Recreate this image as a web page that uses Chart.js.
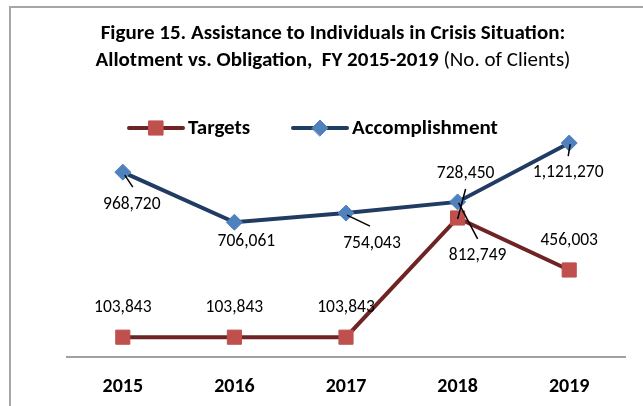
<!DOCTYPE html>
<html>
<head>
<meta charset="utf-8">
<script src="https://cdn.jsdelivr.net/npm/chart.js@4.4.1/dist/chart.umd.min.js"></script>
<style>
  body { margin: 0; background: #fff; }
  #wrap { position: relative; width: 643px; height: 406px; overflow: hidden; font-family: Carlito, Calibri, Lato, sans-serif; }
  #frame { position: absolute; left: 9px; top: 6px; right: -4px; bottom: -4px; border-top: 2px solid #a6a6a6; border-left: 2px solid #a6a6a6; }
  #title { position: absolute; left: 0; width: 666px; top: 19px; text-align: center; font-size: 21px; line-height: 27px; color: #000; }
  #title b { font-weight: 700; }
  canvas { position: absolute; left: 0; top: 0; }
</style>
</head>
<body>
<div id="wrap">
  <div id="frame"></div>
  <canvas id="chart" width="643" height="406"></canvas>
  <div id="title"><b>Figure 15. Assistance to Individuals in Crisis Situation:</b><br><b>Allotment vs. Obligation,&nbsp; FY 2015-2019</b> (No. of Clients)</div>
</div>
<script>
// --- DATA ---
const years = ['2015', '2016', '2017', '2018', '2019'];
const targets = [103843, 103843, 103843, 728450, 456003];
const accomplishment = [968720, 706061, 754043, 812749, 1121270];

// label placement relative to each point (dx, dy), plus optional leader line
const targetLabelPos = [[0, -30], [0, -30], [0, -30], [8, -44], [0, -29]];
const accLabelPos = [[9, 32], [12, 19], [26, 31], [20, 54], [-1, 30]];
const targetLeaders = [null, null, null, [8, -29, 0, 1], null];
const accLeaders = [[2, 3, 10, 15], null, [1, 2, 24, 13], [1, 1, 20, 37], [1, 1, -1, 13]];

const FONT = 'Carlito, Calibri, Lato, sans-serif';

const labelPlugin = {
    id: 'pointLabels',
    afterDatasetsDraw(chart) {
        const ctx = chart.ctx;
        const sets = [[targetLabelPos, targetLeaders], [accLabelPos, accLeaders]];
        ctx.save();
        chart.data.datasets.forEach((ds, i) => {
            const meta = chart.getDatasetMeta(i);
            const [pos, leaders] = sets[i];
            meta.data.forEach((pt, j) => {
                const l = leaders[j];
                if (l) {
                    ctx.strokeStyle = '#000';
                    ctx.lineWidth = 1.5;
                    ctx.beginPath();
                    ctx.moveTo(pt.x + l[0], pt.y + l[1]);
                    ctx.lineTo(pt.x + l[2], pt.y + l[3]);
                    ctx.stroke();
                }
                ctx.fillStyle = '#000';
                ctx.font = '17.5px ' + FONT;
                ctx.textAlign = 'center';
                ctx.textBaseline = 'middle';
                ctx.fillText(ds.data[j].toLocaleString('en-US'), pt.x + pos[j][0], pt.y + pos[j][1]);
            });
        });
        ctx.restore();
    }
};

// legend drawn like Excel: line with marker in the middle
const legendPlugin = {
    id: 'lineLegend',
    afterDraw(chart) {
        const ctx = chart.ctx;
        const items = [
            { x: 129, text: 'Targets' },
            { x: 293, text: 'Accomplishment' }
        ];
        const y = 128;
        ctx.save();
        chart.data.datasets.forEach((ds, i) => {
            const it = items[i];
            ctx.strokeStyle = ds.borderColor;
            ctx.lineWidth = 4;
            ctx.lineCap = 'round';
            ctx.beginPath();
            ctx.moveTo(it.x, y);
            ctx.lineTo(it.x + 54, y);
            ctx.stroke();
            ctx.fillStyle = ds.pointBackgroundColor;
            ctx.strokeStyle = ds.pointBorderColor;
            ctx.lineWidth = 1;
            Chart.helpers.drawPoint(ctx, { pointStyle: ds.pointStyle, radius: ds.pointRadius, borderWidth: 1 }, it.x + 27, y);
            ctx.fillStyle = '#000';
            ctx.font = 'bold 21px ' + FONT;
            ctx.textAlign = 'left';
            ctx.textBaseline = 'middle';
            ctx.fillText(it.text, it.x + 59, y + 1);
        });
        ctx.restore();
    }
};

new Chart(document.getElementById('chart').getContext('2d'), {
    type: 'line',
    data: {
        labels: years,
        datasets: [{
            label: 'Targets',
            data: targets,
            borderColor: '#6e2424',
            borderWidth: 4,
            pointStyle: 'rect',
            pointRadius: 10,
            pointBackgroundColor: '#c0504d',
            pointBorderColor: '#c0504d',
            pointBorderWidth: 1,
            tension: 0
        }, {
            label: 'Accomplishment',
            data: accomplishment,
            borderColor: '#203c62',
            borderWidth: 4,
            pointStyle: 'rectRot',
            pointRadius: 8,
            pointBackgroundColor: '#4f81bd',
            pointBorderColor: '#4f81bd',
            pointBorderWidth: 1,
            tension: 0
        }]
    },
    options: {
        responsive: false,
        animation: false,
        events: [],
        layout: { padding: { left: 67, right: 18, top: 128, bottom: 0 } },
        plugins: { legend: { display: false }, title: { display: false }, tooltip: { enabled: false } },
        scales: {
            y: { display: false, min: 0, max: 1200000 },
            x: {
                offset: true,
                grid: { display: false },
                border: { display: true, color: '#a0a0a0', width: 2 },
                ticks: { color: '#000', font: { family: FONT, size: 20, weight: 'bold' }, padding: 10 },
                afterFit(scale) { scale.height = 49; }
            }
        }
    },
    plugins: [labelPlugin, legendPlugin]
});
</script>
</body>
</html>
